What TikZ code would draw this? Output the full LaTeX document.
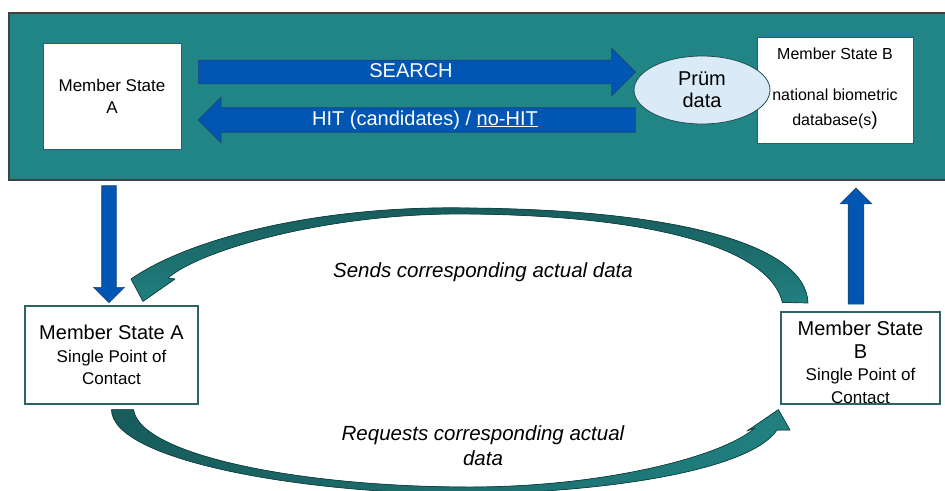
\documentclass[tikz,border=0pt]{standalone}
\usepackage{fontspec}
\setmainfont{Liberation Sans}
\usetikzlibrary{shapes.arrows, shapes.geometric}

\definecolor{panelteal}{RGB}{33,133,133}
\definecolor{arrowblue}{RGB}{0,86,178}
\definecolor{arrowedge}{RGB}{28,70,118}
\definecolor{arcteal}{RGB}{33,128,128}
\definecolor{arcdark}{RGB}{24,92,92}
\definecolor{arcedge}{RGB}{18,66,66}
\definecolor{pruemfill}{RGB}{218,234,247}
\definecolor{pruemedge}{RGB}{30,78,90}
\definecolor{boxedge}{RGB}{47,85,151}
\definecolor{spocedge}{RGB}{46,100,100}

\begin{document}
\begin{tikzpicture}[%
    x=1pt, y=1pt,
    panel/.style={draw=black!75, line width=1.5pt, fill=panelteal},
    mbox/.style={draw=boxedge, fill=white, line width=0.8pt, align=center, inner sep=0pt},
    spoc/.style={draw=spocedge, fill=white, line width=1.2pt, align=center, inner sep=0pt},
    pruem/.style={ellipse, draw=pruemedge, fill=pruemfill, line width=0.8pt, align=center,
      inner sep=0pt, minimum width=136pt, minimum height=68pt, font=\fontsize{20}{22}\selectfont},
    blockarrow/.style={single arrow, draw=arrowedge, fill=arrowblue, line width=0.6pt,
      inner xsep=0pt, text=white, font=\fontsize{20}{24}\selectfont},
    arcfill/.style={draw=arcedge, line width=0.7pt, line join=round},
    arclabel/.style={align=center, font=\fontsize{20.5}{25}\selectfont\itshape}
  ]

  \useasboundingbox (0,0) rectangle (945,-490);

  % upper band: automated search
  \node[panel, minimum width=943pt, minimum height=167pt, inner sep=0pt] (net) at (480.5,-96.5) {};
  \node[mbox, minimum width=156pt, minimum height=106pt, text depth=7pt,
        font=\fontsize{16}{25}\selectfont] (msB) at (835,-90)
        {Member State B\\[16pt]national biometric\\database(s{\fontsize{19}{21}\selectfont )}};
  \node[pruem] (pruem) at (702,-90) {Prüm\\data};
  \node[mbox, minimum width=138pt, minimum height=106pt,
        font=\fontsize{17}{22}\selectfont] (msA) at (112,-96) {Member State\\A};

  \node[blockarrow, minimum height=437pt, text height=15pt, text depth=5pt, inner ysep=1.5pt,
        single arrow head extend=12pt] (search) at (411,-72) {SEARCH};
  \node[blockarrow, minimum height=437pt, text height=15pt, text depth=5pt, inner ysep=2pt,
        single arrow head extend=10.5pt, shape border rotate=180] (hit) at (423,-120)
        {\hspace{4pt}HIT (candidates) / \underline{no-HIT}};

  % single points of contact
  \node[spoc, minimum width=173pt, minimum height=98pt,
        font=\fontsize{17}{22.5}\selectfont] (spocA) at (111.5,-355)
        {{\fontsize{20}{24}\selectfont Member State A}\\Single Point of\\Contact};
  \node[spoc, minimum width=159pt, minimum height=92pt, text depth=0pt,
        font=\fontsize{17}{22.5}\selectfont] (spocB) at (860.5,-358)
        {{\fontsize{20}{24}\selectfont\rule{0pt}{23pt}Member State}\\{\fontsize{20}{24}\selectfont B}\\Single Point of\\Contact};

  \node[blockarrow, rotate=-90, minimum height=117pt, inner ysep=7pt,
        single arrow head extend=8pt] (down) at (109,-240.5) {};
  \node[blockarrow, rotate=90, minimum height=116pt, inner ysep=7.5pt,
        single arrow head extend=8pt] (up) at (856,-250) {};

  % exchange of the actual data
  \fill[arcfill, top color=arcdark, bottom color=arcteal]
        ([xshift=2pt,yshift=9pt]spocB.north west)
        .. controls (770,-250) and (660,-216) .. (470,-214)
        .. controls (330,-212) and (200,-250) .. (168,-278)
        -- (175,-279) -- ([xshift=31.5pt,yshift=4pt]spocA.north) -- (131,-279)
        .. controls (190,-238) and (320,-205) .. (470,-208)
        .. controls (680,-210) and (806,-245) .. (808,-303)
        -- cycle;
  \fill[arcfill, left color=arcdark, right color=arcteal]
        ([yshift=-5pt]spocA.south) -- ++(22,0)
        .. controls (140,-455) and (300,-487) .. (470,-487)
        .. controls (600,-487) and (720,-458) .. (755,-428)
        -- (747,-431) -- ([xshift=-2pt,yshift=-5pt]spocB.south west) -- (790,-430) -- (777,-430)
        .. controls (750,-470) and (610,-492) .. (470,-494)
        .. controls (300,-494) and (112,-460) .. ([yshift=-5pt]spocA.south)
        -- cycle;

  \node[arclabel] (sends) at (483,-272) {Sends corresponding actual data};
  \node[arclabel] (requests) at (483,-445.5) {Requests corresponding actual\\data};
\end{tikzpicture}
\end{document}
